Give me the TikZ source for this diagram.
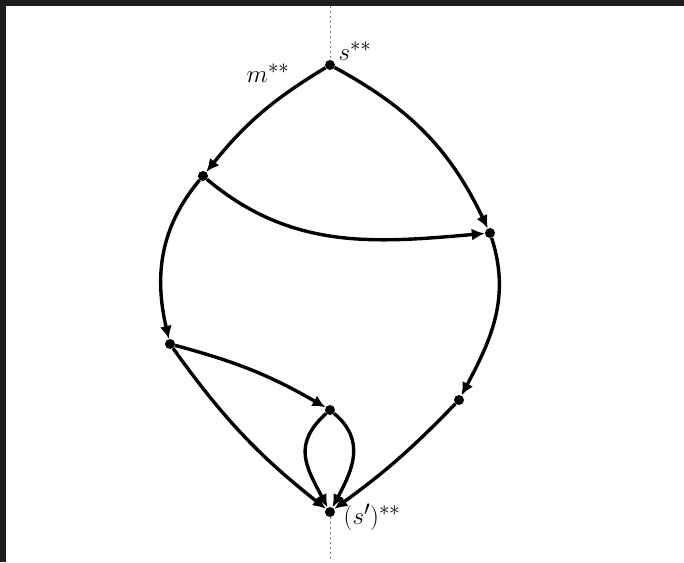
\documentclass[tikz,border=0pt]{standalone}
\usetikzlibrary{arrows.meta}
\definecolor{frame}{RGB}{30,30,30}
\begin{document}
\begin{tikzpicture}[x=1pt,y=1pt,
  vtx/.style={circle,fill=black,inner sep=0pt,minimum size=10pt},
  arc/.style={line width=3.4pt,-{Latex[length=13pt,width=12pt]}},
  guide/.style={gray,line width=0.7pt,dash pattern=on 2pt off 3pt},
  lbl/.style={font=\fontsize{30}{34}\selectfont,inner sep=0pt}]
\useasboundingbox (0,0) rectangle (684,562);
\fill[frame] (0,0) rectangle (684,562);
\fill[white] (6,0) rectangle (684,556);
% vertices
\node[vtx] (s) at (330,497) {};
\node[vtx] (A) at (203,386) {};
\node[vtx] (B) at (490,329) {};
\node[vtx] (C) at (170,218) {};
\node[vtx] (D) at (330,152) {};
\node[vtx] (E) at (459,162) {};
\node[vtx] (F) at (330,50) {};
\coordinate (top) at (330,556);
\coordinate (bot) at (330,0);
% guide line
\draw[guide] (top) -- (s);
\draw[guide] (F) -- (bot);
% labels
\node[lbl] (lm) at (268,489) {$m^{**}$};
\node[lbl] (ls) at (355,511) {$s^{**}$};
\node[lbl] (lf) at (372,45) {$(s')^{**}$};
% arcs
\draw[arc] (s) to[bend right=10] (A);
\draw[arc] (s) to[bend left=18] (B);
\draw[arc] (A) to[out=-40,in=185] (B);
\draw[arc] (A) to[out=230,in=103] (C);
\draw[arc] (B) to[out=-72,in=62] (E);
\draw[arc] (C) to[out=-15,in=150] (D);
\draw[arc] (C) to[bend right=8] (F);
\draw[arc] (E) to[bend left=5] (F);
\draw[arc] (D) to[out=222,in=118,looseness=1.25] (F);
\draw[arc] (D) to[out=-40,in=62,looseness=1.15] (F);
\end{tikzpicture}
\end{document}
